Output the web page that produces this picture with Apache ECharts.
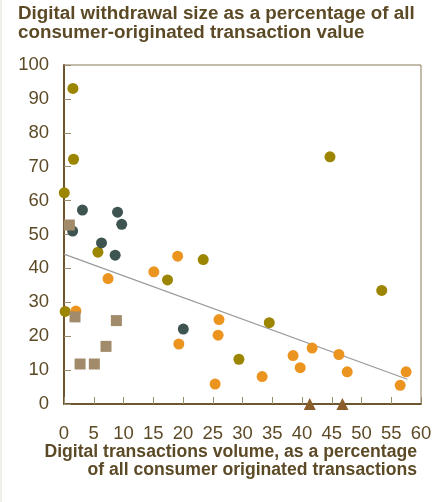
<!DOCTYPE html>
<html>
<head>
<meta charset="utf-8">
<script src="https://cdn.jsdelivr.net/npm/echarts@6/dist/echarts.min.js"></script>
<style>
  html, body { margin: 0; padding: 0; background: #fff; }
  #chart { width: 444px; height: 502px; border-left: 2px solid #efefea; box-sizing: border-box; }
</style>
</head>
<body>
<div id="chart"></div>
<script>
    // [digital volume %, digital withdrawal size %]
    var oliveGroup = [[1.5, 93.1], [1.6, 72.2], [0.05, 62.3], [5.7, 44.8], [23.4, 42.6], [17.4, 36.6],
        [0.2, 27.3], [44.7, 72.9], [53.4, 33.5], [34.5, 24.0], [29.4, 13.2]];
    var slateGroup = [[3.1, 57.2], [9.0, 56.6], [9.7, 53.0], [1.45, 51.0], [6.3, 47.5], [8.6, 43.9], [20.05, 22.1]];
    var orangeGroup = [[19.1, 43.6], [15.1, 39.0], [7.4, 37.0], [2.0, 27.4], [26.05, 24.9], [25.9, 20.3],
        [19.3, 17.7], [25.4, 5.9], [33.3, 8.1], [38.5, 14.3], [41.7, 16.5], [39.7, 10.7],
        [46.2, 14.6], [47.6, 9.5], [57.5, 9.5], [56.5, 5.5]];
    var squareGroup = [[0.9, 52.8], [1.85, 25.7], [8.8, 24.6], [7.06, 17.0], [2.7, 11.8], [5.1, 11.8]];
    var triangleGroup = [[41.3, 0], [46.8, 0]];
    var trendLine = [[0, 44.2], [57.7, 7.3]];

    var xTicks = [0, 5, 10, 15, 20, 25, 30, 35, 40, 45, 50, 55, 60];
    var yTicks = [0, 10, 20, 30, 40, 50, 60, 70, 80, 90, 100];

    var textColor = '#5c4a26';
    var fontFamily = 'Liberation Sans, Arial, sans-serif';

    function dots(data, color, symbol, size) {
        return {
            type: 'scatter',
            data: data,
            symbol: symbol,
            symbolSize: size,
            itemStyle: { color: color, opacity: 1 },
            z: 3
        };
    }

    // x axis name, right aligned line by line
    function nameLine(text, top) {
        return {
            type: 'text',
            right: 27,
            top: top,
            style: { text: text, fill: textColor, font: 'bold 17.6px ' + fontFamily }
        };
    }

    var chart = echarts.init(document.getElementById('chart'), null, {renderer: 'canvas'});
    chart.setOption({
        animation: false,
        textStyle: { fontFamily: fontFamily },
        graphic: [{
            type: 'text',
            left: 16,
            top: 4,
            style: {
                text: 'Digital withdrawal size as a percentage of all\nconsumer-originated transaction value',
                fill: textColor,
                font: 'bold 18.8px ' + fontFamily,
                lineHeight: 19
            }
        },
            nameLine('Digital transactions volume, as a percentage', 443),
            nameLine('of all consumer originated transactions', 461)
        ],
        grid: {
            left: 62,
            right: 23,
            top: 65,
            bottom: 98,
            show: true,
            borderColor: '#8a7a58',
            borderWidth: 1
        },
        xAxis: {
            type: 'value',
            min: xTicks[0],
            max: xTicks[xTicks.length - 1],
            interval: 5,
            axisLine: { lineStyle: { color: '#6b5630', width: 2 } },
            axisTick: { inside: true, length: 7, lineStyle: { color: '#9a8c70' } },
            axisLabel: { color: textColor, fontSize: 18.5, margin: 20 },
            splitLine: { show: false }
        },
        yAxis: {
            type: 'value',
            min: yTicks[0],
            max: yTicks[yTicks.length - 1],
            interval: 10,
            axisLine: { show: true, lineStyle: { color: '#6b5630', width: 2 } },
            axisTick: { show: true, inside: true, length: 7, lineStyle: { color: '#9a8c70' } },
            axisLabel: { color: textColor, fontSize: 18.5, margin: 15 },
            splitLine: { show: false }
        },
        series: [
            {
                type: 'line',
                data: trendLine,
                symbol: 'none',
                lineStyle: { color: '#9a9a9a', width: 1.2 },
                z: 2
            },
            dots(oliveGroup, '#9c8500', 'circle', 11),
            dots(slateGroup, '#3e5451', 'circle', 11),
            dots(orangeGroup, '#ec9420', 'circle', 11),
            dots(squareGroup, '#a18b6b', 'rect', 11),
            dots(triangleGroup, '#8c5f2a', 'triangle', 12)
        ]
    });
</script>
</body>
</html>
